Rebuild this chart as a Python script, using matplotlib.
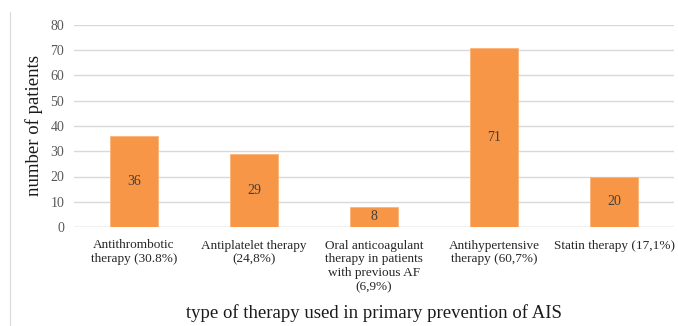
import matplotlib.pyplot as plt
from matplotlib.lines import Line2D

categories = [
    "Antithrombotic\ntherapy (30.8%)",
    "Antiplatelet therapy\n(24,8%)",
    "Oral anticoagulant\ntherapy in patients\nwith previous AF\n(6,9%)",
    "Antihypertensive\ntherapy (60,7%)",
    "Statin therapy (17,1%)",
]
patients = [36, 29, 8, 71, 20]
y_ticks = [0, 10, 20, 30, 40, 50, 60, 70, 80]

plt.rcParams['font.family'] = ['Liberation Serif', 'DejaVu Serif']

fig = plt.figure(figsize=(6.78, 3.26), dpi=100)
ax = fig.add_axes([74 / 678, 1 - 227 / 326, 600 / 678, 202 / 326])

x = list(range(len(categories)))
bars = ax.bar(x, patients, width=0.4, color='#F79646', edgecolor='#FBB47A', linewidth=0.6, zorder=3)
for b, v in zip(bars, patients):
    ax.text(b.get_x() + b.get_width() / 2, v / 2, str(v), ha='center', va='center',
            fontsize=10, color='#404040', zorder=4)

ax.set_xlim(-0.5, len(categories) - 0.5)
ax.set_ylim(0, 80)
ax.set_yticks(y_ticks)
ax.yaxis.grid(True, color='#D9D9D9', linewidth=1.0, zorder=0)
ax.set_axisbelow(True)
for s in ax.spines.values():
    s.set_visible(False)
ax.axhline(0, color='#D9D9D9', linewidth=1.0, zorder=1)

ax.tick_params(axis='y', length=0, pad=7, labelsize=10, labelcolor='#595959')
ax.tick_params(axis='x', length=0, pad=9)
ax.set_xticks(x)
ax.set_xticklabels(categories, fontsize=9.5, color='#262626', linespacing=1.2, va='top')

ax.set_ylabel("number of patients", fontsize=13.5, color='#1a1a1a')
ax.set_xlabel("type of therapy used in primary prevention of AIS", fontsize=13.5, color='#1a1a1a')
ax.xaxis.set_label_coords(0.5, -0.38)
ax.yaxis.set_label_coords(-0.052, 0.5)

# thin frame line on the left edge
fig.add_artist(Line2D([10 / 678, 10 / 678], [0, 1 - 12 / 326], color='#D9D9D9', linewidth=0.8))

fig.savefig("out.png", dpi=100)
